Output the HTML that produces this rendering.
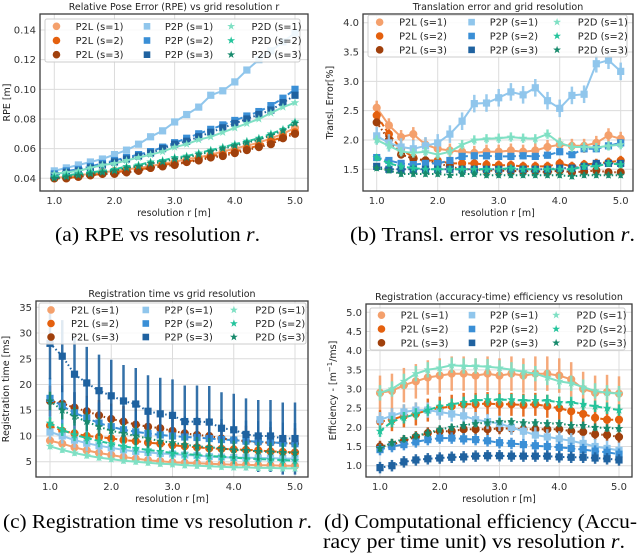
<!DOCTYPE html>
<html><head><meta charset="utf-8"><style>
body{margin:0;background:#fff;width:640px;height:557px;overflow:hidden}
svg{display:block}
.cap{font-family:"Liberation Serif",serif;font-size:19.5px;fill:#000}
</style></head><body>
<svg id="fig" width="640" height="557" xmlns="http://www.w3.org/2000/svg">
<text class="cap" x="55" y="241" textLength="205" lengthAdjust="spacingAndGlyphs">(a) RPE vs resolution <tspan font-style="italic">r</tspan>.</text>
<text class="cap" x="350" y="241" textLength="285" lengthAdjust="spacingAndGlyphs">(b) Transl. error vs resolution <tspan font-style="italic">r</tspan>.</text>
<text class="cap" x="3" y="528" textLength="309" lengthAdjust="spacingAndGlyphs">(c) Registration time vs resolution <tspan font-style="italic">r</tspan>.</text>
<text class="cap" x="324" y="528" textLength="313" lengthAdjust="spacingAndGlyphs">(d) Computational efficiency (Accu-</text>
<text class="cap" x="323" y="548" textLength="302" lengthAdjust="spacingAndGlyphs">racy per time unit) vs resolution <tspan font-style="italic">r</tspan>.</text>
</svg>
<script>
const xValues=[1.0,1.2,1.4,1.6,1.8,2.0,2.2,2.4,2.6,2.8,3.0,3.2,3.4,3.6,3.8,4.0,4.2,4.4,4.6,4.8,5.0];
const xTickLabels=["1.0","2.0","3.0","4.0","5.0"];
const methods=["P2L","P2P","P2D"];
// (a) RPE
const rpeP2L=[[0.040,0.041,0.042,0.043,0.044,0.045,0.046,0.047,0.048,0.050,0.051,0.053,0.054,0.056,0.058,0.060,0.062,0.064,0.067,0.070,0.074],
[0.040,0.040,0.041,0.042,0.043,0.044,0.045,0.046,0.047,0.049,0.050,0.051,0.053,0.055,0.056,0.058,0.060,0.062,0.065,0.068,0.071],
[0.040,0.040,0.041,0.042,0.043,0.043,0.044,0.045,0.047,0.048,0.049,0.051,0.052,0.054,0.055,0.057,0.059,0.061,0.063,0.067,0.070]];
const rpeP2P=[[0.045,0.047,0.049,0.051,0.053,0.056,0.059,0.063,0.068,0.072,0.078,0.083,0.088,0.096,0.099,0.105,0.113,0.120,0.126,0.132,0.138],
[0.043,0.045,0.046,0.048,0.050,0.052,0.054,0.056,0.058,0.061,0.064,0.067,0.070,0.073,0.076,0.079,0.082,0.085,0.089,0.094,0.100],
[0.042,0.044,0.045,0.047,0.049,0.051,0.053,0.055,0.057,0.060,0.063,0.065,0.068,0.071,0.074,0.077,0.080,0.083,0.086,0.091,0.096]];
const rpeP2D=[[0.043,0.044,0.045,0.047,0.049,0.050,0.052,0.054,0.056,0.058,0.061,0.063,0.066,0.068,0.071,0.074,0.077,0.080,0.084,0.088,0.091],
[0.041,0.042,0.043,0.044,0.045,0.046,0.048,0.049,0.051,0.052,0.054,0.055,0.057,0.059,0.061,0.063,0.065,0.067,0.070,0.073,0.078],
[0.040,0.041,0.042,0.043,0.044,0.045,0.047,0.048,0.050,0.051,0.053,0.054,0.056,0.058,0.060,0.062,0.064,0.066,0.069,0.072,0.077]];
const rpeErr=[[0.001,0.001,0.001],[0.002,0.002,0.002],[0.001,0.001,0.001]];
const rpeTicks=[0.04,0.06,0.08,0.10,0.12,0.14];
const rpeTickLabels=["0.04","0.06","0.08","0.10","0.12","0.14"];
// (b) translation error
const teP2L=[[2.55,2.25,2.05,2.1,1.92,1.85,1.82,1.8,1.78,1.8,1.8,1.82,1.8,1.82,1.88,1.92,1.9,1.9,1.95,2.08,2.02],
[2.42,2.1,1.85,1.7,1.65,1.65,1.6,1.6,1.6,1.58,1.57,1.57,1.55,1.55,1.55,1.6,1.55,1.58,1.6,1.62,1.65],
[2.3,2.0,1.75,1.68,1.65,1.6,1.55,1.5,1.5,1.48,1.48,1.47,1.47,1.47,1.45,1.48,1.45,1.46,1.48,1.45,1.45]];
const teP2P=[[2.07,1.95,1.88,1.85,1.9,1.95,2.1,2.32,2.62,2.63,2.72,2.82,2.77,2.89,2.67,2.54,2.76,2.78,3.3,3.36,3.17],
[1.7,1.65,1.6,1.58,1.6,1.6,1.65,1.72,1.73,1.73,1.72,1.72,1.73,1.72,1.74,1.8,1.75,1.85,1.85,1.9,1.95],
[1.55,1.5,1.5,1.5,1.5,1.5,1.5,1.5,1.5,1.5,1.5,1.5,1.5,1.5,1.5,1.52,1.52,1.55,1.6,1.6,1.6]];
const teP2D=[[2.0,1.9,1.8,1.78,1.8,1.75,1.8,1.92,2.0,2.02,2.03,2.05,2.03,2.02,2.1,1.95,1.88,1.88,1.87,1.9,1.92],
[1.7,1.6,1.55,1.52,1.5,1.5,1.5,1.5,1.5,1.5,1.5,1.52,1.5,1.5,1.5,1.5,1.5,1.55,1.55,1.6,1.58],
[1.52,1.48,1.42,1.42,1.42,1.42,1.4,1.42,1.42,1.4,1.4,1.4,1.4,1.4,1.4,1.4,1.38,1.4,1.4,1.4,1.4]];
const teErr=[[0.12,0.08,0.06],[0.15,0.06,0.05],[0.08,0.06,0.05]];
const teTicks=[1.5,2.0,2.5,3.0,3.5,4.0];
const teTickLabels=["1.5","2.0","2.5","3.0","3.5","4.0"];
// (c) registration time
const rtP2L=[[9.1,8.5,7.8,7.2,6.7,6.3,5.9,5.6,5.3,5.1,4.9,4.8,4.7,4.6,4.5,4.4,4.4,4.3,4.3,4.2,4.2],
[12,11,10.5,10,9.8,9.5,9.2,9,8.7,8.5,8.2,8,7.8,7.6,7.5,7.4,7.3,7.2,7,6.9,6.8],
[16.8,16.3,15.5,14.8,14,13.3,12.8,12.2,11.8,11.5,11,10.5,10.2,10,9.5,9.2,9,8.8,8.7,8.7,8.5]];
const rtP2P=[[10.8,10,9.2,8.6,8.1,7.7,7.3,7,6.8,6.6,6.5,6.3,6.2,6,5.9,5.8,5.8,5.7,5.7,5.6,5.6],
[17.3,15.8,14.5,13.5,12.5,11.8,11.2,10.8,10.5,10.2,10,9.8,9.7,9.5,9.3,9.2,9,8.9,8.8,8.6,8.5],
[28,25.5,22,20.3,18.8,17.8,16.8,16.2,14.8,14.3,14,12.8,12.8,12.7,11.5,11.2,10.3,10,10,9.5,9.5]];
const rtP2D=[[8,7.3,6.7,6.2,5.8,5.5,5.2,5,4.8,4.6,4.5,4.3,4.2,4.1,4,3.9,3.9,3.8,3.8,3.7,3.7],
[12.5,11.2,10.2,9.6,9,8.5,8,7.6,7.3,7,6.7,6.5,6.3,6.1,6,5.8,5.6,5.5,5.4,5.3,5.2],
[16.8,15,13.8,12.8,11.8,11,10.5,10,9.5,9,8.7,8.3,8,7.8,7.6,7.3,7.2,7,6.9,6.8,6.7]];
const rtErr=[[0.8,1.5,3],[1.5,4,7],[0.6,1.2,1.8]];
const rtTicks=[5,10,15,20,25,30,35];
const rtTickLabels=["5","10","15","20","25","30","35"];
// (d) efficiency
const efP2L=[[2.9,2.95,3.1,3.2,3.3,3.35,3.4,3.4,3.35,3.4,3.35,3.4,3.35,3.4,3.4,3.35,3.25,3.0,2.9,2.92,2.88],
[2.15,2.2,2.3,2.35,2.45,2.5,2.55,2.6,2.6,2.62,2.6,2.6,2.58,2.6,2.55,2.5,2.42,2.35,2.25,2.2,2.2],
[1.5,1.55,1.65,1.75,1.85,1.9,1.9,1.95,1.95,1.95,1.97,1.97,1.95,1.95,1.95,1.95,1.9,1.88,1.82,1.8,1.75]];
const efP2P=[[2.2,2.3,2.4,2.45,2.45,2.4,2.35,2.3,2.2,2.15,2.1,2.0,1.9,1.8,1.75,1.7,1.65,1.58,1.5,1.45,1.4],
[1.42,1.5,1.55,1.62,1.68,1.72,1.72,1.7,1.68,1.65,1.6,1.58,1.55,1.52,1.5,1.48,1.45,1.42,1.38,1.35,1.3],
[0.95,1.0,1.1,1.15,1.18,1.2,1.22,1.23,1.25,1.26,1.26,1.25,1.25,1.25,1.25,1.23,1.22,1.22,1.2,1.18,1.15]];
const efP2D=[[2.9,3.0,3.2,3.4,3.5,3.55,3.62,3.6,3.6,3.58,3.55,3.5,3.45,3.4,3.3,3.2,3.15,3.05,2.95,2.9,2.88],
[1.9,2.15,2.25,2.35,2.45,2.55,2.6,2.65,2.7,2.72,2.72,2.72,2.7,2.7,2.7,2.65,2.65,2.6,2.55,2.5,2.45],
[1.45,1.6,1.7,1.78,1.85,1.95,2.0,2.05,2.1,2.12,2.15,2.15,2.12,2.12,2.1,2.1,2.05,2.05,2.0,1.98,1.97]];
const efErr=[[0.45,0.3,0.15],[0.2,0.15,0.15],[0.2,0.15,0.1]];
const efTicks=[1.0,1.5,2.0,2.5,3.0,3.5,4.0,4.5,5.0];
const efTickLabels=["1.0","1.5","2.0","2.5","3.0","3.5","4.0","4.5","5.0"];

const colors={P2L:["#f4a06c","#e4600e","#a0400c"],P2P:["#90c6ec","#3a8fd6","#1f62a0"],P2D:["#7fe0c4","#24c49c","#178a6c"]};
const dashes=["","5,3","1.5,2.5"];
const NS="http://www.w3.org/2000/svg";
const svg=document.getElementById('fig');
function mk(tag,attrs,parent){const e=document.createElementNS(NS,tag);for(const k in attrs)e.setAttribute(k,attrs[k]);(parent||svg).appendChild(e);return e;}
function marker(g,m,cx,cy,col,r){
  let e;
  if(m==="P2L"){e=mk('circle',{cx:cx,cy:cy,r:r,fill:col,stroke:col},g);}
  else if(m==="P2P"){e=mk('rect',{x:cx-r,y:cy-r,width:2*r,height:2*r,fill:col},g);}
  else{let p=[];for(let i=0;i<10;i++){const a=-Math.PI/2+i*Math.PI/5,rr=i%2?r*0.5:r*1.25;p.push((cx+rr*Math.cos(a)).toFixed(1)+','+(cy+rr*Math.sin(a)).toFixed(1));}e=mk('polygon',{points:p.join(' '),fill:col},g);}
  return e;
}
function plot(cfg){
  const g=mk('g',{});
  
  
  const sx=v=>cfg.x1px+(v-1)*(cfg.x5px-cfg.x1px)/4;
  const sy=v=>cfg.ya.px+(v-cfg.ya.v)*(cfg.yb.px-cfg.ya.px)/(cfg.yb.v-cfg.ya.v);
  const b=cfg.box;
  mk('rect',{x:b[0],y:b[1],width:b[2]-b[0],height:b[3]-b[1],fill:"#fff"},g);
  const clipId='clip'+cfg.name;
  const cp=mk('clipPath',{id:clipId},g);mk('rect',{x:b[0],y:b[1],width:b[2]-b[0],height:b[3]-b[1]},cp);
  xTickLabels.forEach(l=>{const x=sx(parseFloat(l));
    const gl=mk('line',{x1:x,x2:x,y1:b[1],y2:b[3],stroke:"#dcdcdc","stroke-width":1},g);
    
    const t=mk('text',{x:x,y:b[3]+13,"text-anchor":"middle","font-size":"10","font-family":"DejaVu Sans, sans-serif",fill:"#333"},g);t.textContent=l;
    });
  cfg.ticks.forEach((v,i)=>{const y=sy(v);
    const gl=mk('line',{x1:b[0],x2:b[2],y1:y,y2:y,stroke:"#dcdcdc","stroke-width":1},g);
    
    const t=mk('text',{x:b[0]-4,y:y+3.5,"text-anchor":"end","font-size":"10","font-family":"DejaVu Sans, sans-serif",fill:"#333"},g);t.textContent=cfg.tickLabels[i];
    });
  const dg=mk('g',{"clip-path":"url(#"+clipId+")"},g);
  methods.forEach((m,mi)=>{
    cfg.data[mi].forEach((ser,s)=>{
      const col=colors[m][s];
      const sg=mk('g',{},dg);
      
      
      const err=cfg.err[mi][s];
      ser.forEach((v,i)=>{const eb=mk('line',{x1:sx(xValues[i]),x2:sx(xValues[i]),y1:sy(v-err),y2:sy(v+err),stroke:col,"stroke-width":2.5,opacity:0.9},sg);
        });
      const pl=mk('polyline',{points:ser.map((v,i)=>sx(xValues[i]).toFixed(1)+','+sy(v).toFixed(1)).join(' '),fill:"none",stroke:col,"stroke-width":2,"stroke-dasharray":dashes[s]},sg);
      
      ser.forEach((v,i)=>{const mkr=marker(sg,m,sx(xValues[i]),sy(v),col,3.6);
        });
    });
  });
  mk('rect',{x:b[0],y:b[1],width:b[2]-b[0],height:b[3]-b[1],fill:"none",stroke:"#3c3c3c","stroke-width":1.3},g);
  const tt=mk('text',{x:(b[0]+b[2])/2,y:b[1]-4,"text-anchor":"middle","font-size":"9.5","font-family":"DejaVu Sans, sans-serif",fill:"#222"},g);tt.textContent=cfg.title;
  
  const xl=mk('text',{x:(b[0]+b[2])/2,y:b[3]+25,"text-anchor":"middle","font-size":"9.5","font-family":"DejaVu Sans, sans-serif",fill:"#222"},g);xl.textContent="resolution r [m]";
  
  const cy=(b[1]+b[3])/2;
  const yl=mk('text',{x:cfg.ylx,y:cy,"text-anchor":"middle","font-size":"9.5","font-family":"DejaVu Sans, sans-serif",fill:"#222",transform:"rotate(-90 "+cfg.ylx+" "+cy+")"},g);yl.innerHTML=cfg.ylabel;
  
  const L=cfg.legend;const lg=mk('g',{},g);
  
  mk('rect',{x:L[0],y:L[1],width:L[2]-L[0],height:L[3]-L[1],fill:"#fff","fill-opacity":0.85,stroke:"#ccc",rx:2},lg);
  const W=L[2]-L[0],H=L[3]-L[1];
  methods.forEach((m,mi)=>{for(let s=0;s<3;s++){
    const y=L[1]+H*(0.17+0.33*s);
    const mxs=[0.045,0.4,0.73][mi],txs=[0.12,0.47,0.81][mi];
    const mm=marker(lg,m,L[0]+W*mxs,y,colors[m][s],3.3);
    
    const t=mk('text',{x:L[0]+W*txs,y:y+3.5,"font-size":"9.8","font-family":"DejaVu Sans, sans-serif",fill:"#222"},lg);
    t.textContent=m+" (s="+(s+1)+")";
    
  }});
}
plot({name:"rpe-chart",box:[40,14,308,191],x1px:54.3,x5px:295,ya:{v:0.04,px:178.3},yb:{v:0.14,px:30},ticks:rpeTicks,tickLabels:rpeTickLabels,
  data:[rpeP2L,rpeP2P,rpeP2D],err:rpeErr,title:"Relative Pose Error (RPE) vs grid resolution r",ylabel:"RPE [m]",ylx:10,legend:[45,19,300,62]});
plot({name:"translation-error-chart",box:[363,14,633,191],x1px:376.7,x5px:620.7,ya:{v:1.5,px:169.3},yb:{v:4.0,px:22.7},ticks:teTicks,tickLabels:teTickLabels,
  data:[teP2L,teP2P,teP2D],err:teErr,title:"Translation error and grid resolution",ylabel:"Transl. Error[%]",ylx:333,legend:[368,15,627,57]});
plot({name:"registration-time-chart",box:[36,301,308,477],x1px:50,x5px:295,ya:{v:5,px:461.7},yb:{v:35,px:307.3},ticks:rtTicks,tickLabels:rtTickLabels,
  data:[rtP2L,rtP2P,rtP2D],err:rtErr,title:"Registration time vs grid resolution",ylabel:"Registration time [ms]",ylx:9,legend:[39,303,306,344]});
plot({name:"efficiency-chart",box:[366,304,632,477],x1px:380,x5px:619,ya:{v:1.0,px:465.7},yb:{v:5.0,px:312.3},ticks:efTicks,tickLabels:efTickLabels,
  data:[efP2L,efP2P,efP2D],err:efErr,title:"Registration (accuracy-time) efficiency vs resolution",ylabel:"Efficiency - [m<tspan dy='-4' font-size='7'>−1</tspan><tspan dy='4'>/ms]</tspan>",ylx:336,legend:[370,308,625,350]});
</script>
</body></html>
